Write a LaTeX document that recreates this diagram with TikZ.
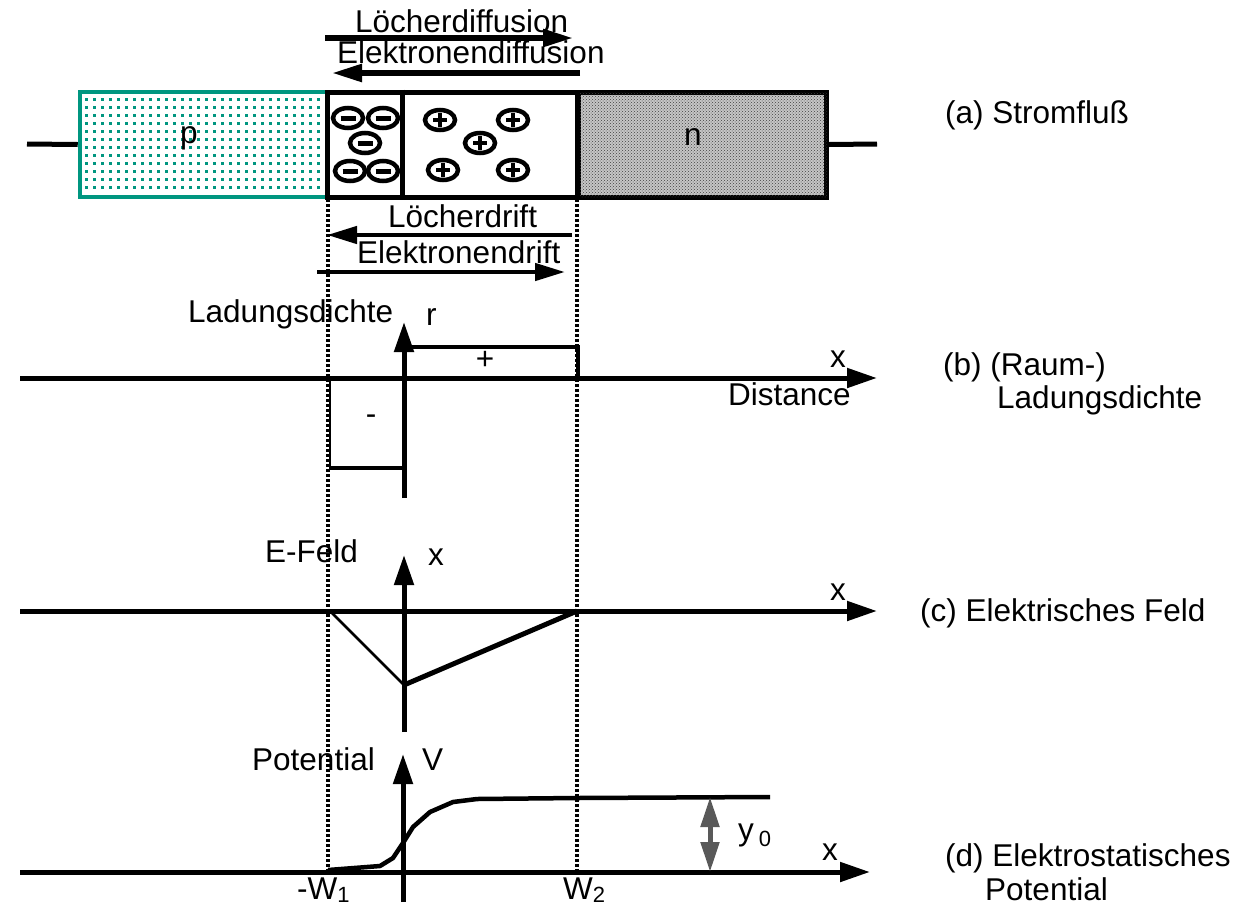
\documentclass[tikz,border=0pt]{standalone}
\usepackage{fontspec}
\setmainfont{Liberation Sans}
\usetikzlibrary{arrows.meta,patterns,shapes.geometric}
\definecolor{pteal}{RGB}{0,150,128}
\tikzset{
  lbl/.style={font=\fontsize{31.5}{36}\selectfont,inner sep=0pt,anchor=base west},
  region/.style={draw,line width=5pt,minimum width=248pt,minimum height=105pt,inner sep=0pt},
  ion/.style={ellipse,draw,line width=4.5pt,minimum width=30pt,minimum height=20pt,inner sep=0pt},
  axis/.style={line width=5pt,-{Triangle[length=30pt,width=19pt]}},
  flux/.style={line width=5.5pt,-{Triangle[length=30pt,width=17pt]}},
  drift/.style={line width=4.5pt,-{Triangle[length=30pt,width=17pt]}},
  guide/.style={line width=3.5pt,dash pattern=on 3pt off 2pt},
  curve/.style={line width=4.5pt,line join=round},
  gap/.style={draw=gray!70!black,fill=gray!55,line width=5pt,
    {Triangle[length=30pt,width=18pt]}-{Triangle[length=30pt,width=18pt]}}
}
\begin{document}
\begin{tikzpicture}[x=1pt,y=-1pt]
\useasboundingbox (0,0) rectangle (1249,908);
\foreach \i in {0,...,29}
  \foreach \j in {0,...,11}
    \fill[pteal] ({85+8*\i},{98+8*\j}) rectangle ++(2.6,2.6);
\node[region,draw=pteal,line width=4.5pt] (pbox) at (204,144.5) {};
\node[region,fill=gray!45,postaction={pattern=crosshatch dots,pattern color=black!75}] (nbox) at (702.5,144.5) {};
\node[region,minimum width=250pt] (dep) at (452,144.5) {};
\draw[line width=5pt] ([xshift=-50pt]dep.north) -- ([xshift=-50pt]dep.south);
\coordinate (leadL) at (27,144);
\coordinate (leadR) at (877,144);
\draw[line width=5pt] (leadL) -- (pbox.west);
\draw[line width=5pt] (nbox.east) -- (leadR);
\node[lbl] (plabel) at (180,143) {p};
\node[lbl] (nlabel) at (684,145) {n};
\foreach \p [count=\k] in {(348,118),(383,118),(365,143),(350,171),(383,171)}
  \node[ion] (neg\k) at \p {\rule{15pt}{5pt}};
\foreach \p [count=\k] in {(440,120),(513,120),(480,143),(443,170),(513,170)}{
  \node[ion] (pos\k) at \p {};
  \draw[line width=4.5pt] ([xshift=-7pt]pos\k.center) -- ([xshift=7pt]pos\k.center);
  \draw[line width=4.5pt] ([yshift=-7pt]pos\k.center) -- ([yshift=7pt]pos\k.center);
}
\coordinate (hdA) at (325,38); \coordinate (hdB) at (573,38);
\coordinate (edA) at (580,73); \coordinate (edB) at (332,73);
\draw[flux] (hdA) -- (hdB); \draw[flux] (edA) -- (edB);
\node[lbl] (hdiff) at (355,32) {Löcherdiffusion};
\node[lbl] (ediff) at (337,63) {Elektronendiffusion};
\coordinate (hrA) at (572,235); \coordinate (hrB) at (327,235);
\coordinate (erA) at (317,272); \coordinate (erB) at (565,272);
\draw[drift] (hrA) -- (hrB); \draw[drift] (erA) -- (erB);
\node[lbl] (hdrift) at (388,227) {Löcherdrift};
\node[lbl] (edrift) at (357,263) {Elektronendrift};
\coordinate (gL1) at (328,199); \coordinate (gL2) at (328,870);
\coordinate (gR1) at (577,199); \coordinate (gR2) at (577,870);
\draw[guide] (gL1) -- (gL2); \draw[guide] (gR1) -- (gR2);
\coordinate (bL) at (20,378); \coordinate (bR) at (877,378);
\coordinate (bD) at (404,498); \coordinate (bU) at (404,322);
\draw[axis] (bL) -- (bR); \draw[axis] (bD) -- (bU);
\draw[line width=4.5pt] (404,347) -- (578,347);
\draw[line width=3.5pt] (578,345) -- (578,378);
\draw[line width=3.5pt] (404,468) -- (330,468);
\draw[line width=2pt] (330,469) -- (330,378);
\node[lbl,anchor=center] (plus) at (485,360) {+};
\node[lbl,anchor=center] (minus) at (371,420) {-};
\node[lbl] (rho) at (426,325) {r};
\node[lbl] (bname) at (188,322) {Ladungsdichte};
\node[lbl] (bx) at (830,367) {x};
\node[lbl] (dist) at (728,405) {Distance};
\node[lbl] (blab) at (943,375) {(b) (Raum-)};
\node[lbl] (blab2) at (997,408) {Ladungsdichte};
\coordinate (cL) at (20,611); \coordinate (cR) at (877,611);
\coordinate (cD) at (404,732); \coordinate (cU) at (404,555);
\draw[axis] (cL) -- (cR); \draw[axis] (cD) -- (cU);
\coordinate (eA) at (330,611); \coordinate (eM) at (404,685); \coordinate (eB) at (577,611);
\draw[line width=2.5pt] (eA) -- (eM);
\draw[line width=5pt] (eM) -- (eB);
\node[lbl] (cname) at (265,562) {E-Feld};
\node[lbl] (cxi) at (428,565) {x};
\node[lbl] (cx) at (830,600) {x};
\node[lbl] (clab) at (920,621) {(c) Elektrisches Feld};
\coordinate (dL) at (20,872); \coordinate (dR) at (870,872);
\coordinate (dD) at (403,902); \coordinate (dU) at (403,754);
\draw[axis] (dL) -- (dR); \draw[axis] (dD) -- (dU);
\draw[curve] (328,870) -- (380,866) -- (393,858) -- (403,843) -- (413,827)
  -- (430,812) -- (453,802) -- (477,799) -- (577,798) -- (770,797);
\coordinate (y0A) at (710,797); \coordinate (y0B) at (710,872);
\draw[gap] (y0A) -- (y0B);
\node[lbl] (y0) at (738,840) {y\hspace{5pt}\raisebox{-6pt}{\fontsize{22}{26}\selectfont 0}};
\node[lbl] (dname) at (252,770) {Potential};
\node[lbl] (dV) at (422,770) {V};
\node[lbl] (dx) at (822,860) {x};
\node[lbl] (w1) at (297,899) {-W\raisebox{-3pt}{\fontsize{22}{26}\selectfont 1}};
\node[lbl] (w2) at (563,899) {W\raisebox{-3pt}{\fontsize{22}{26}\selectfont 2}};
\node[lbl] (alab) at (945,123) {(a) Stromfluß};
\node[lbl] (dlab) at (945,866) {(d) Elektrostatisches};
\node[lbl] (dlab2) at (985,900) {Potential};
\end{tikzpicture}
\end{document}
